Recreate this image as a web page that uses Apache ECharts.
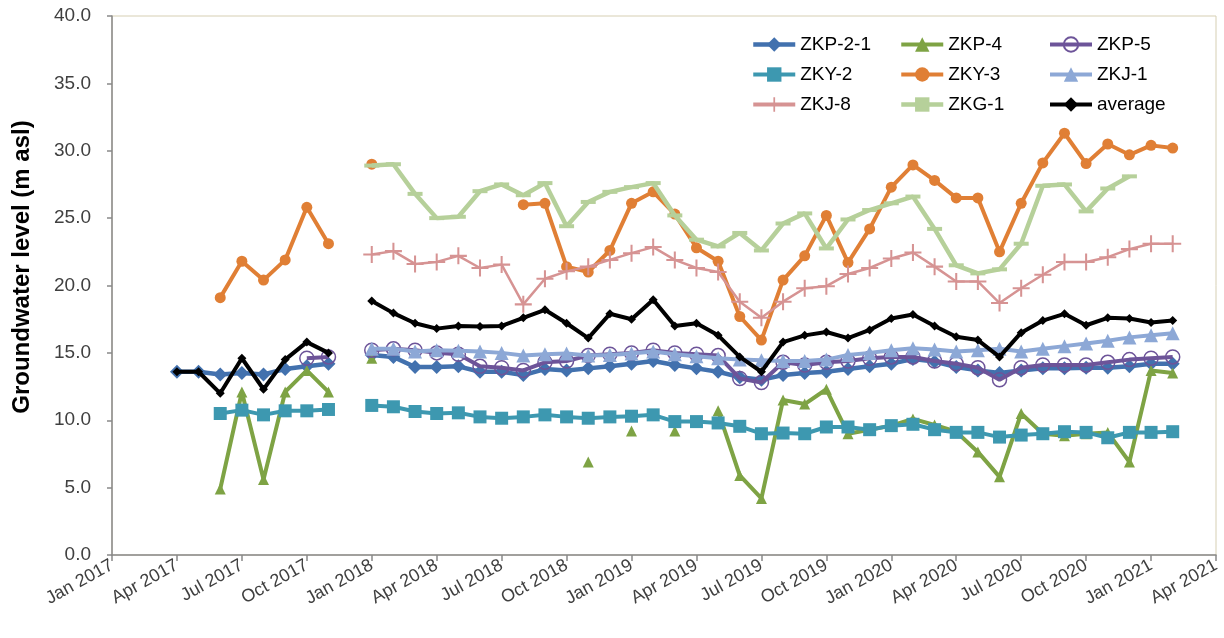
<!DOCTYPE html>
<html>
<head>
<meta charset="utf-8">
<title>Groundwater level</title>
<script src="https://cdn.jsdelivr.net/npm/echarts@6/dist/echarts.min.js"></script>
<style>
  html, body { margin: 0; padding: 0; background: #fff; }
  #chart { width: 1224px; height: 638px; }
</style>
</head>
<body>
<div id="chart"></div>
<script>
// Monthly observation dates (first of month)
const months = [
  '2017-04','2017-05','2017-06','2017-07','2017-08','2017-09','2017-10','2017-11','2017-12',
  '2018-01','2018-02','2018-03','2018-04','2018-05','2018-06','2018-07','2018-08','2018-09','2018-10','2018-11','2018-12',
  '2019-01','2019-02','2019-03','2019-04','2019-05','2019-06','2019-07','2019-08','2019-09','2019-10','2019-11','2019-12',
  '2020-01','2020-02','2020-03','2020-04','2020-05','2020-06','2020-07','2020-08','2020-09','2020-10','2020-11','2020-12',
  '2021-01','2021-02'
];

// Quarterly tick labels, Jan 2017 .. Apr 2021
const tickLabels = [
  'Jan 2017','Apr 2017','Jul 2017','Oct 2017',
  'Jan 2018','Apr 2018','Jul 2018','Oct 2018',
  'Jan 2019','Apr 2019','Jul 2019','Oct 2019',
  'Jan 2020','Apr 2020','Jul 2020','Oct 2020',
  'Jan 2021','Apr 2021'
];

// Groundwater levels (m asl); null = no measurement
const zkp21 = [13.6,13.6,13.4,13.5,13.4,13.8,14.0,14.2,null,
  14.85,14.7,13.95,13.95,14.0,13.6,13.6,13.35,13.8,13.7,13.85,14.0,
  14.2,14.4,14.1,13.85,13.6,13.2,13.0,13.35,13.5,13.6,13.8,14.0,
  14.2,14.55,14.35,13.95,13.7,13.5,13.7,13.85,13.85,13.9,13.9,14.0,
  14.2,14.2];
const zkp4 = [null,null,4.9,12.1,5.6,12.1,13.7,12.1,null,
  14.6,null,null,null,null,null,null,null,null,null,6.9,null,
  9.2,null,9.2,null,10.7,5.9,4.2,11.5,11.2,12.3,9.0,9.3,
  9.6,10.1,9.65,9.15,7.65,5.8,10.5,9.0,8.85,9.0,9.1,6.9,
  13.7,13.5];
const zkp5 = [null,null,null,null,null,null,14.6,14.7,null,
  15.2,15.3,15.2,15.0,14.9,14.0,13.9,13.7,14.3,14.4,14.8,14.9,
  15.0,15.2,15.0,14.9,14.8,13.1,12.8,14.3,14.1,14.3,14.4,14.6,
  14.7,14.7,14.4,14.2,13.9,13.0,13.9,14.1,14.1,14.1,14.3,14.5,
  14.6,14.7];
const zky2 = [null,null,10.5,10.75,10.4,10.7,10.7,10.8,null,
  11.1,11.0,10.65,10.5,10.55,10.25,10.15,10.25,10.4,10.25,10.15,10.25,
  10.3,10.4,9.9,9.9,9.8,9.55,9.0,9.05,9.0,9.5,9.5,9.3,
  9.6,9.7,9.3,9.1,9.1,8.75,8.9,9.0,9.15,9.1,8.7,9.1,
  9.1,9.15];
const zky3 = [null,null,19.1,21.8,20.4,21.9,25.8,23.1,null,
  29.0,null,null,null,null,null,null,26.0,26.1,21.4,21.0,22.6,
  26.1,26.95,25.3,22.8,21.8,17.7,15.95,20.4,22.2,25.2,21.7,24.2,
  27.3,28.95,27.8,26.5,26.5,22.5,26.1,29.1,31.3,29.05,30.5,29.7,
  30.4,30.2];
const zkj1 = [null,null,null,null,null,null,null,null,null,
  15.3,15.3,15.1,15.2,15.15,15.1,15.0,14.8,14.9,14.95,14.8,14.85,
  14.95,15.1,14.9,14.75,14.6,14.5,14.45,14.4,14.4,14.5,14.85,15.0,
  15.2,15.35,15.25,15.1,15.2,15.3,15.1,15.3,15.5,15.7,15.9,16.15,
  16.3,16.45];
const zkj8 = [null,null,null,null,null,null,null,null,null,
  22.3,22.55,21.6,21.75,22.2,21.3,21.55,18.6,20.5,21.05,21.4,21.9,
  22.4,22.85,21.9,21.3,21.0,18.8,17.6,18.8,19.8,19.95,20.85,21.3,
  22.0,22.45,21.4,20.3,20.3,18.7,19.8,20.8,21.75,21.75,22.1,22.7,
  23.1,23.1];
const zkg1 = [null,null,null,null,null,null,null,null,null,
  28.9,29.0,26.8,25.0,25.1,27.0,27.5,26.7,27.6,24.4,26.2,26.95,
  27.3,27.6,25.2,23.4,22.9,23.9,22.6,24.6,25.35,22.75,24.9,25.6,
  26.1,26.6,24.2,21.5,20.9,21.2,23.1,27.4,27.5,25.5,27.2,28.1,
  null,null];
const average = [13.6,13.6,12.0,14.6,12.3,14.5,15.8,15.0,null,
  18.85,17.95,17.2,16.8,17.0,16.95,17.0,17.6,18.2,17.2,16.1,17.9,
  17.5,18.95,17.0,17.2,16.3,14.7,13.6,15.8,16.3,16.55,16.1,16.7,
  17.55,17.85,17.0,16.2,15.95,14.7,16.5,17.4,17.9,17.05,17.6,17.55,
  17.25,17.4];

// Month offset from Jan 2017, used as the x value
function monthIndex(s) {
  const [y, m] = s.split('-').map(Number);
  return (y - 2017) * 12 + (m - 1);
}
function pairs(values) {
  return months.map((m, i) => [monthIndex(m), values[i] == null ? '-' : values[i]]);
}

const PLUS = 'path://M4.4,0h1.2v4.4h4.4v1.2h-4.4v4.4h-1.2v-4.4h-4.4v-1.2h4.4z';
const DASH = 'path://M0,0h10v2.6h-10z';

const defs = [
  { name: 'ZKP-2-1', data: zkp21, color: '#4271ae', symbol: 'diamond', size: 14, width: 4.5 },
  { name: 'ZKP-4',   data: zkp4,  color: '#7ea344', symbol: 'triangle', size: 11, width: 4 },
  { name: 'ZKP-5',   data: zkp5,  color: '#6d5499', symbol: 'circle', size: 14, width: 4, hollow: true },
  { name: 'ZKY-2',   data: zky2,  color: '#3d98b0', symbol: 'rect', size: 13, width: 4 },
  { name: 'ZKY-3',   data: zky3,  color: '#e07f35', symbol: 'circle', size: 11, width: 4 },
  { name: 'ZKJ-1',   data: zkj1,  color: '#8da8d6', symbol: 'triangle', size: 14, width: 4 },
  { name: 'ZKJ-8',   data: zkj8,  color: '#d69393', symbol: PLUS, size: 17, width: 2.5 },
  { name: 'ZKG-1',   data: zkg1,  color: '#b6d09a', symbol: DASH, size: [15, 4], width: 4.5 },
  { name: 'average', data: average, color: '#000000', symbol: 'diamond', size: 9, width: 4 }
];

const series = defs.map((d, i) => ({
  name: d.name,
  type: 'line',
  data: pairs(d.data),
  z: 2 + i,
  symbol: d.symbol,
  symbolSize: d.size,
  showSymbol: true,
  showAllSymbol: true,
  connectNulls: false,
  lineStyle: { color: d.color, width: d.width },
  itemStyle: d.hollow
    ? { color: 'rgba(255,255,255,0)', borderColor: d.color, borderWidth: 1.5 }
    : { color: d.color },
  emphasis: { disabled: true }
}));

const legendText = { fontSize: 19, color: '#000', fontFamily: 'Liberation Sans', lineHeight: 19 };
function legendColumn(names, left) {
  return {
    orient: 'vertical', left: left, top: 30,
    itemWidth: 42, itemHeight: 18, itemGap: 11,
    data: names.map(n => {
      const d = defs.find(x => x.name === n);
      return { name: n, lineStyle: { width: Math.max(d.width, 4) } };
    }),
    textStyle: legendText,
    selectedMode: false
  };
}

const axisText = { color: '#404040', fontFamily: 'Liberation Sans' };

const chart = echarts.init(document.getElementById('chart'), null, { renderer: 'canvas' });
chart.setOption({
  animation: false,
  backgroundColor: '#ffffff',
  grid: {
    left: 112, right: 8, top: 16, bottom: 83,
    outerBoundsMode: 'none', containLabel: false,
    show: true, borderColor: '#d6cfb3', borderWidth: 1, backgroundColor: 'transparent'
  },
  legend: [
    legendColumn(['ZKP-2-1', 'ZKY-2', 'ZKJ-8'], 746),
    legendColumn(['ZKP-4', 'ZKY-3', 'ZKG-1'], 894),
    legendColumn(['ZKP-5', 'ZKJ-1', 'average'], 1043)
  ],
  graphic: [{
    type: 'text',
    x: 22, y: 267,
    rotation: Math.PI / 2,
    style: {
      text: 'Groundwater level (m asl)',
      fill: '#000',
      font: 'bold 24px "Liberation Sans"',
      align: 'center',
      verticalAlign: 'middle'
    }
  }],
  xAxis: {
    type: 'value', min: 0, max: 51, interval: 3,
    splitLine: { show: false },
    axisLine: { show: true, lineStyle: { color: '#898989', width: 1.5 } },
    axisTick: { show: true, length: 6, lineStyle: { color: '#898989', width: 1.5 } },
    axisLabel: {
      ...axisText, fontSize: 18, rotate: 29, margin: 9,
      formatter: v => tickLabels[Math.round(v / 3)] || ''
    }
  },
  yAxis: {
    type: 'value', min: 0, max: 40, interval: 5,
    splitLine: { show: false },
    axisLine: { show: true, lineStyle: { color: '#898989', width: 1.5 } },
    axisTick: { show: true, length: 5, lineStyle: { color: '#898989', width: 1.5 } },
    axisLabel: { ...axisText, fontSize: 19, margin: 21, formatter: v => v.toFixed(1) }
  },
  series: series
});
</script>
</body>
</html>
